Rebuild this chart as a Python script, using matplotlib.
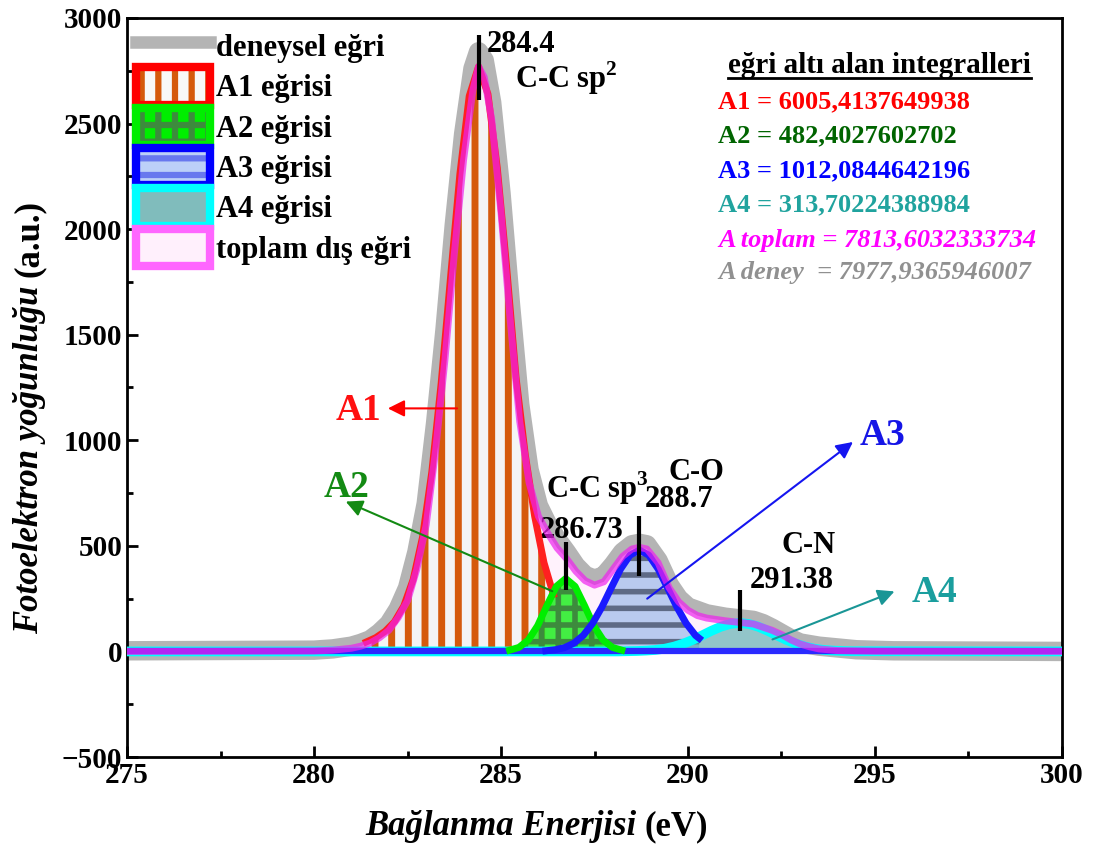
import matplotlib
matplotlib.use('Agg')
import matplotlib.pyplot as plt
from matplotlib.patches import Patch
from matplotlib.lines import Line2D
from matplotlib.legend_handler import HandlerTuple

plt.rcParams['font.family'] = ['Liberation Serif', 'DejaVu Serif']
plt.rcParams['font.weight'] = 'bold'
plt.rcParams['mathtext.fontset'] = 'custom'
plt.rcParams['mathtext.rm'] = 'Liberation Serif:bold'
plt.rcParams['mathtext.bf'] = 'Liberation Serif:bold'
plt.rcParams['hatch.linewidth'] = 4.5

# experimental curve (grey)
exp_e = [275.0, 280.0, 280.5, 281.0, 281.25, 281.5, 281.75, 282.0, 282.25, 282.5, 282.75, 283.0,
         283.25, 283.5, 283.75, 284.0, 284.25, 284.4, 284.55, 284.75, 285.0, 285.25, 285.5, 285.75,
         286.0, 286.25, 286.5, 286.75, 287.0, 287.25, 287.5, 287.75, 288.0, 288.25, 288.5, 288.7,
         288.9, 289.2, 289.5, 289.75, 290.0, 290.5, 291.0, 291.4, 291.75, 292.0, 292.25, 292.5,
         292.75, 293.0, 293.5, 294.5, 295.5, 300.0]
exp_i = [3, 6, 12, 25, 38, 55, 88, 130, 200, 300, 470, 700,
         1080, 1520, 2020, 2450, 2760, 2840, 2800, 2600, 2170, 1650, 1170, 860,
         690, 600, 530, 470, 405, 360, 342, 358, 410, 470, 505, 512,
         505, 430, 315, 250, 210, 178, 162, 154, 147, 132, 110, 85,
         60, 40, 25, 8, 3, 0]

# total fitted envelope (toplam dış eğri)
tot_e = [275.0, 280.0, 280.5, 281.0, 281.25, 281.5, 281.75, 282.0, 282.25, 282.5, 282.75, 283.0,
         283.25, 283.5, 283.75, 284.0, 284.25, 284.4, 284.55, 284.75, 285.0, 285.25, 285.5, 285.75,
         286.0, 286.25, 286.5, 286.75, 287.0, 287.25, 287.5, 287.75, 288.0, 288.25, 288.5, 288.7,
         288.9, 289.2, 289.5, 289.75, 290.0, 290.25, 290.5, 291.0, 291.4, 291.75, 292.0, 292.25,
         292.5, 292.75, 293.0, 293.25, 293.5, 294.0, 295.0, 300.0]
tot_i = [0, 2, 6, 15, 25, 40, 65, 100, 160, 240, 390, 600,
         950, 1380, 1880, 2330, 2660, 2770, 2720, 2520, 2080, 1560, 1090, 800,
         640, 560, 490, 440, 380, 335, 314, 330, 390, 450, 485, 493,
         485, 420, 300, 235, 195, 170, 158, 145, 137, 130, 115, 100,
         80, 55, 35, 22, 12, 4, 1, 0]

# fitted components
a1_e = [281.4, 281.65, 281.9, 282.15, 282.4, 282.65, 282.9, 283.15, 283.4, 283.65, 283.9,
        284.15, 284.4, 284.65, 284.9, 285.15, 285.4, 285.65, 285.9, 286.15, 286.4]
a1_i = [45, 65, 95, 140, 215, 340, 540, 850, 1270, 1770, 2260,
        2630, 2770, 2640, 2290, 1820, 1300, 930, 640, 420, 270]

a2_e = [285.23, 285.48, 285.73, 285.98, 286.23, 286.48, 286.73, 286.98, 287.23, 287.48,
        287.73, 287.98, 288.23]
a2_i = [6, 19, 54, 122, 218, 308, 345, 308, 218, 122, 54, 19, 6]

a3_e = [286.2, 286.45, 286.7, 286.95, 287.2, 287.45, 287.7, 287.95, 288.2, 288.45, 288.7,
        288.95, 289.2, 289.45, 289.7, 289.95, 290.2, 290.3]
a3_i = [3, 8, 18, 39, 76, 133, 211, 302, 391, 456, 480,
        456, 391, 302, 211, 133, 76, 62]

a4_e = [275.0, 288.13, 288.38, 288.63, 288.88, 289.13, 289.38, 289.63, 289.88, 290.13, 290.38,
        290.63, 290.88, 291.13, 291.38, 291.63, 291.88, 292.13, 292.38, 292.63, 292.88, 293.13,
        293.38, 293.63, 293.88, 294.13, 294.38, 300.0]
a4_i = [0, 0, 1, 2, 4, 7, 13, 23, 37, 55, 76,
        98, 117, 130, 135, 130, 117, 98, 76, 55, 37, 23,
        13, 7, 4, 2, 1, 0]

# peak positions / labels
peak_pos = [284.4, 286.73, 288.7, 291.38]
area_labels = ['A1 = 6005,4137649938', 'A2 = 482,4027602702', 'A3 = 1012,0844642196',
               'A4 = 313,70224388984', 'A toplam = 7813,6032333734', 'A deney  = 7977,9365946007']
area_colors = ['#ff0000', '#006400', '#0000ff', '#20a39e', '#ff00ff', '#909090']
area_styles = ['normal', 'normal', 'normal', 'normal', 'italic', 'italic']

fig = plt.figure(figsize=(10.99, 8.52), dpi=100)
ax = fig.add_axes([0.1156, 0.1115, 0.8507, 0.8674])


def hatched_fill(x, y, face, hatch, hcolor, alpha=1.0, z=2, hlw=4.5):
    ax.fill_between(x, 0, y, facecolor=face, edgecolor='none', lw=0, alpha=alpha, zorder=z)
    if hatch:
        coll = ax.fill_between(x, 0, y, facecolor='none', edgecolor=hcolor, hatch=hatch, lw=0,
                               zorder=z + 0.1)
        if hasattr(coll, 'set_hatch_linewidth'):
            coll.set_hatch_linewidth(hlw)


# experimental data
ax.plot(exp_e, exp_i, color='#b4b4b4', lw=14, solid_capstyle='butt', solid_joinstyle='round', zorder=1)

# filled areas
ax.fill_between(tot_e, 0, tot_i, facecolor='#fff2fc', edgecolor='none', zorder=1.5)
hatched_fill(a1_e, a1_i, '#f4f4f4', '|', '#d55a0c', z=2, hlw=5)
hatched_fill(a3_e, a3_i, '#b2c6ee', '-', '#5e6a86', alpha=0.9, z=2.4, hlw=4)
hatched_fill(a2_e, a2_i, '#22ee22', '+', '#3d8b3d', alpha=0.85, z=2.6, hlw=4)
hatched_fill(a4_e, a4_i, '#4aa8a8', '', '#4aa8a8', alpha=0.6, z=2.8)

# baseline + component lines
ax.plot(a4_e, a4_i, color='#00ffff', lw=7, zorder=3)
ax.axhline(0, color='#2a2aff', lw=4.5, zorder=3.1)
ax.plot(a1_e, a1_i, color='#ff2020', lw=5, zorder=3.2)
ax.plot(a2_e, a2_i, color='#00ee00', lw=5, zorder=3.2)
ax.plot(a3_e, a3_i, color='#1a1aff', lw=5, zorder=3.2)
ax.plot(tot_e, tot_i, color='#ee22ee', lw=5, alpha=0.7, zorder=3.5)

# peak markers
ax.vlines(peak_pos[0], 2610, 2918, color='black', lw=3, zorder=5)
ax.vlines(peak_pos[1], 289, 516, color='black', lw=3, zorder=5)
ax.vlines(peak_pos[2], 355, 640, color='black', lw=3, zorder=5)
ax.vlines(peak_pos[3], 99, 289, color='black', lw=3, zorder=5)

fs = 22
ax.text(284.63, 2875, '284.4', fontsize=fs, va='center', ha='left')
ax.text(285.37, 2714, 'C-C sp$^{2}$', fontsize=fs, va='center', ha='left')
ax.text(286.20, 772, 'C-C sp$^{3}$', fontsize=fs, va='center', ha='left')
ax.text(286.04, 573, '286.73', fontsize=fs, va='center', ha='left')
ax.text(289.47, 848, 'C-O', fontsize=fs, va='center', ha='left')
ax.text(288.85, 720, '288.7', fontsize=fs, va='center', ha='left')
ax.text(292.51, 502, 'C-N', fontsize=fs, va='center', ha='left')
ax.text(291.66, 336, '291.38', fontsize=fs, va='center', ha='left')

# component arrows
big = 27
ax.annotate('', xy=(281.90, 1151), xytext=(283.90, 1151),
            arrowprops=dict(arrowstyle='-|>', color='#ff0000', lw=1.5, mutation_scale=25), zorder=6)
ax.text(281.8, 1142, 'A1', color='#ff1010', fontsize=big, ha='right', va='center')
ax.annotate('', xy=(280.78, 715), xytext=(286.44, 280),
            arrowprops=dict(arrowstyle='-|>', color='#138a13', lw=1.5, mutation_scale=25), zorder=6)
ax.text(280.88, 777, 'A2', color='#138a13', fontsize=big, ha='center', va='center')
ax.annotate('', xy=(294.47, 1000), xytext=(288.85, 242),
            arrowprops=dict(arrowstyle='-|>', color='#1515f0', lw=1.5, mutation_scale=25), zorder=6)
ax.text(295.21, 1023, 'A3', color='#1515e6', fontsize=big, ha='center', va='center')
ax.annotate('', xy=(295.59, 289), xytext=(292.19, 52),
            arrowprops=dict(arrowstyle='-|>', color='#1a9696', lw=1.5, mutation_scale=25), zorder=6)
ax.text(296.6, 280, 'A4', color='#1a9e9e', fontsize=big, ha='center', va='center')

# area integrals block
title = ax.text(291.07, 2776, 'eğri altı alan integralleri', fontsize=21, va='center', ha='left')
ys = [2601, 2444, 2278, 2113, 1947, 1795]
for lab, col, st, yy in zip(area_labels, area_colors, area_styles, ys):
    ax.text(290.80, yy, lab, color=col, fontsize=19, style=st, va='center', ha='left')

# axes
ax.set_xlim(275, 300)
ax.set_ylim(-500, 3000)
ax.set_xticks([275, 280, 285, 290, 295, 300])
ax.set_yticks([-500, 0, 500, 1000, 1500, 2000, 2500, 3000])
ax.set_xticks([277.5, 282.5, 287.5, 292.5, 297.5], minor=True)
ax.set_yticks([-250, 250, 750, 1250, 1750, 2250, 2750], minor=True)
ax.tick_params(which='both', direction='in', width=2, labelsize=21)
ax.tick_params(which='major', length=8)
ax.tick_params(which='minor', length=4)
for s in ax.spines.values():
    s.set_linewidth(2)

# legend
h_exp = Line2D([], [], color='#b4b4b4', lw=9)
h_a1 = (Patch(facecolor='#f8f8f8', edgecolor='none'),
        Patch(facecolor='none', edgecolor='#d55a0c', hatch='|', lw=0),
        Patch(facecolor='none', edgecolor='#ff0000', lw=6))
h_a2 = (Patch(facecolor='#00ee00', edgecolor='none'),
        Patch(facecolor='none', edgecolor='#3d8b3d', hatch='+', lw=0),
        Patch(facecolor='none', edgecolor='#00ee00', lw=6))
h_a3 = (Patch(facecolor='#bcd0f8', edgecolor='none'),
        Patch(facecolor='none', edgecolor='#6878ee', hatch='-', lw=0),
        Patch(facecolor='none', edgecolor='#0000ff', lw=6))
h_a4 = Patch(facecolor='#80bcbc', edgecolor='#00ffff', lw=6)
h_tot = Patch(facecolor='#fff0fc', edgecolor='#ff66ff', lw=6)
ax.legend([h_exp, h_a1, h_a2, h_a3, h_a4, h_tot],
          ['deneysel eğri', 'A1 eğrisi', 'A2 eğrisi', 'A3 eğrisi', 'A4 eğrisi', 'toplam dış eğri'],
          handler_map={tuple: HandlerTuple(ndivide=1, pad=0)},
          loc='upper left', frameon=False, fontsize=22, handlelength=2.4, handleheight=1.5,
          labelspacing=0.1, handletextpad=0.2, borderaxespad=0.1, borderpad=0.2)

# axis labels with mixed styles
fig.canvas.draw()
r = fig.canvas.get_renderer()
W, H = fig.bbox.width, fig.bbox.height

xl1 = fig.text(0, 0.02, 'Bağlanma Enerjisi', fontsize=25, style='italic', ha='left', va='baseline')
xl2 = fig.text(0, 0.02, '(eV)', fontsize=25, ha='left', va='baseline')
w1 = xl1.get_window_extent(r).width
w2 = xl2.get_window_extent(r).width
gap = 8
x0 = 537 - (w1 + gap + w2) / 2
xl1.set_x(x0 / W)
xl2.set_x((x0 + w1 + gap) / W)

yl1 = fig.text(38 / W, 0, 'Fotoelektron yoğunluğu', fontsize=25, style='italic', rotation=90,
               rotation_mode='anchor', ha='left', va='baseline')
yl2 = fig.text(38 / W, 0, '(a.u.)', fontsize=25, rotation=90,
               rotation_mode='anchor', ha='left', va='baseline')
h1 = yl1.get_window_extent(r).height
h2 = yl2.get_window_extent(r).height
y0 = (H - 417) - (h1 + gap + h2) / 2
yl1.set_y(y0 / H)
yl2.set_y((y0 + h1 + gap) / H)

# underline of the integrals title
bb = title.get_window_extent(r)
fig.add_artist(Line2D([bb.x0 / W, bb.x1 / W], [(bb.y0 + 1) / H, (bb.y0 + 1) / H],
                      transform=fig.transFigure, color='black', lw=2))

fig.savefig('out.png', dpi=100)
